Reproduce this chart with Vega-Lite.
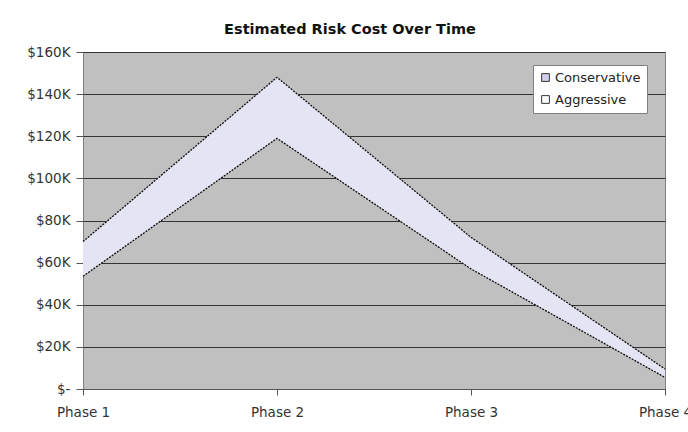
{
  "$schema": "https://vega.github.io/schema/vega-lite/v6.json",
  "autosize": "none",
  "width": 582,
  "height": 337,
  "padding": {"left": 83, "top": 52, "right": 23, "bottom": 43},
  "background": "white",
  "title": {"text": "Estimated Risk Cost Over Time", "font": "DejaVu Sans", "fontSize": 14.5, "fontWeight": "bold", "color": "#111", "offset": 8, "dx": -24},
  "config": {
    "view": {"fill": "#c0c0c0", "stroke": "#808080", "strokeWidth": 1},
    "axis": {"labelFont": "DejaVu Sans", "labelFontSize": 13.5, "labelColor": "#333", "tickColor": "#555", "domainColor": "#555", "titleFont": "DejaVu Sans"}
  },
  "data": {"values": [
    {"phase": "Phase 1", "Conservative": 70000, "Aggressive": 53500},
    {"phase": "Phase 2", "Conservative": 148000, "Aggressive": 119000},
    {"phase": "Phase 3", "Conservative": 72000, "Aggressive": 57000},
    {"phase": "Phase 4", "Conservative": 9500, "Aggressive": 5500}
  ]},
  "encoding": {
    "x": {"field": "phase", "type": "ordinal", "sort": null, "scale": {"type": "point", "padding": 0},
      "axis": {"title": null, "labelAngle": 0, "tickSize": 6, "labelPadding": 10, "grid": false}}
  },
  "layer": [
    {
      "mark": {"type": "area", "color": "#e4e4f4", "opacity": 1},
      "encoding": {
        "y": {"field": "Conservative", "type": "quantitative", "scale": {"domain": [0, 160000]},
          "axis": {"title": null, "values": [0, 20000, 40000, 60000, 80000, 100000, 120000, 140000, 160000],
            "labelExpr": "datum.value == 0 ? '$-' : '$' + datum.value / 1000 + 'K'",
            "grid": true, "gridColor": "#333", "gridWidth": 1, "tickSize": 7, "labelPadding": 6, "domain": false}},
        "y2": {"field": "Aggressive"}
      }
    },
    {
      "transform": [{"fold": ["Conservative", "Aggressive"], "as": ["series", "value"]}],
      "mark": {"type": "line", "color": "#111", "strokeWidth": 1.3, "strokeDash": [2, 1.2]},
      "encoding": {
        "y": {"field": "value", "type": "quantitative"},
        "detail": {"field": "series"}
      }
    },
    {
      "transform": [{"fold": ["Conservative", "Aggressive"], "as": ["series", "value"]}],
      "mark": {"type": "point", "filled": true, "size": 0, "opacity": 0},
      "encoding": {
        "y": {"field": "value", "type": "quantitative"},
        "fill": {"field": "series", "type": "nominal",
          "scale": {"domain": ["Conservative", "Aggressive"], "range": ["#d0d0ea", "#ffffff"]},
          "legend": {"title": null, "orient": "none", "legendX": 450, "legendY": 13,
            "fillColor": "white", "strokeColor": "#808080", "padding": 6,
            "symbolType": "square", "symbolSize": 60, "symbolStrokeColor": "#333", "symbolStrokeWidth": 1, "symbolOpacity": 1,
            "labelFont": "DejaVu Sans", "labelFontSize": 13, "labelColor": "#222", "rowPadding": 8, "labelOffset": 3}}
      }
    }
  ]
}
